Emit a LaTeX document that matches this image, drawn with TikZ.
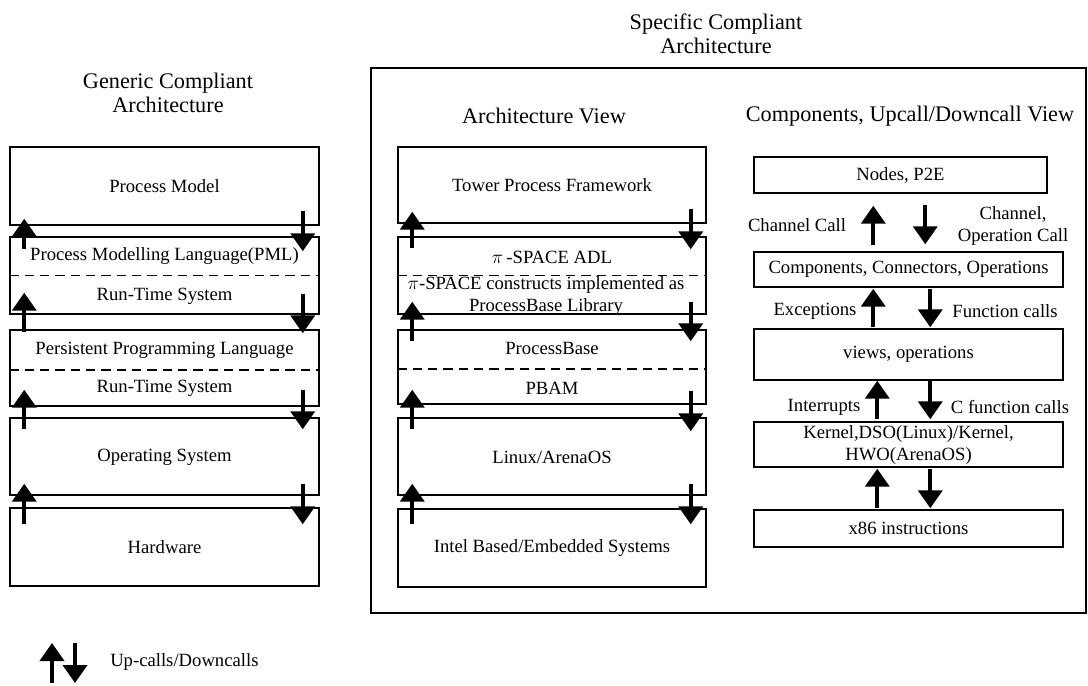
\documentclass[tikz,border=0pt]{standalone}
\usepackage{fontspec}
\setmainfont{Liberation Serif}
\usetikzlibrary{arrows.meta,fit,calc}

\begin{document}
\begin{tikzpicture}[x=0.75pt,y=-0.75pt,
  stackbox/.style={draw=black,line width=1.1pt,inner sep=0pt,rectangle},
  outerbox/.style={draw=black,line width=1.4pt,inner sep=0pt,rectangle},
  lbl/.style={font=\fontsize{14}{16.5}\selectfont,align=center,inner sep=0pt},
  ttl/.style={font=\fontsize{16.7}{18}\selectfont,align=center,inner sep=0pt},
  divider/.style={line width=1.1pt,dash pattern=on 7pt off 4.5pt},
  updown/.style={line width=3pt,-{Triangle[width=18pt,length=13.5pt]}},
]
\useasboundingbox (0,0) rectangle (1088,685);

% ---------- titles ----------
\node[ttl] (genT) at (168,93) {Generic Compliant\\Architecture};
\node[ttl] (specT) at (716,34) {Specific Compliant\\Architecture};
\node[outerbox, fit={(371,68)(1086,613)}] (spec) {};
\node[ttl] (archT) at (544,116) {Architecture View};
\node[ttl] (compT) at (910,116) {Components, Upcall/Downcall View};

% ---------- generic stack ----------
\node[stackbox, fit={(10,147)(319,225)}] (pm) {};
\node[stackbox, fit={(10,237)(319,314)}] (pml) {};
\node[stackbox, fit={(10,330)(319,406)}] (ppl) {};
\node[stackbox, fit={(10,418)(319,495)}] (os) {};
\node[stackbox, fit={(10,508)(319,586)}] (hw) {};
\draw[divider] (pml.west) -- (pml.east);
\draw[divider] ([yshift=-1.5pt]ppl.west) -- ([yshift=-1.5pt]ppl.east);

\node[lbl] (pmL)   at (164.5,186) {Process Model};
\node[lbl] (pmlL)  at (164.5,256) {Process Modelling Language(PML)};
\node[lbl] (rts1L) at (164.5,296) {Run-Time System};
\node[lbl] (pplL)  at (164.5,350) {Persistent Programming Language};
\node[lbl] (rts2L) at (164.5,388) {Run-Time System};
\node[lbl] (osL)   at (164.5,457) {Operating System};
\node[lbl] (hwL)   at (164.5,547) {Hardware};

% calls between generic layers
\draw[updown] ($(pml.north west)+(15,13)$) -- ($(pm.south west)+(15,-7)$);
\draw[updown] ($(pm.south east)+(-17,-15)$) -- ($(pml.north east)+(-17,15)$);
\draw[updown] ($(ppl.north west)+(15,3)$) -- ($(pml.south west)+(15,-22)$);
\draw[updown] ($(pml.south east)+(-17,-21)$) -- ($(ppl.north east)+(-17,4)$);
\draw[updown] ($(os.north west)+(15,12)$) -- ($(ppl.south west)+(15,-17)$);
\draw[updown] ($(ppl.south east)+(-17,-17)$) -- ($(os.north east)+(-17,12)$);
\draw[updown] ($(hw.north west)+(15,17)$) -- ($(os.south west)+(15,-12)$);
\draw[updown] ($(os.south east)+(-17,-12)$) -- ($(hw.north east)+(-17,17)$);

% ---------- architecture view ----------
\node[stackbox, fit={(398,147)(706,223)}] (tpf) {};
\node[stackbox, fit={(398,237)(706,314)}] (adl) {};
\node[stackbox, fit={(398,330)(706,404)}] (pb) {};
\node[stackbox, fit={(398,418)(706,495)}] (lin) {};
\node[stackbox, fit={(398,509)(706,587)}] (intel) {};
\draw[divider] (adl.west) -- (adl.east);
\draw[divider] ([yshift=-1.5pt]pb.west) -- ([yshift=-1.5pt]pb.east);

\node[lbl] (tpfL)   at (552,185) {Tower Process Framework};
\node[lbl] (adlL)   at (552,257) {$\pi$\,-SPACE ADL};
\node[lbl] (pbLibL) at (546,296) {$\pi$-SPACE constructs implemented as\\ProcessBase Library};
\node[lbl] (pbL)    at (552,348) {ProcessBase};
\node[lbl] (pbamL)  at (552,388) {PBAM};
\node[lbl] (linL)   at (552,457) {Linux/ArenaOS};
\node[lbl] (intelL) at (552,548) {Intel Based/Embedded Systems};

\draw[updown] ($(adl.north west)+(15,12)$) -- ($(tpf.south west)+(15,-12)$);
\draw[updown] ($(tpf.south east)+(-16,-15)$) -- ($(adl.north east)+(-16,13)$);
\draw[updown] ($(pb.north west)+(15,12)$) -- ($(adl.south west)+(15,-13)$);
\draw[updown] ($(adl.south east)+(-16,-13)$) -- ($(pb.north east)+(-16,12)$);
\draw[updown] ($(lin.north west)+(15,12)$) -- ($(pb.south west)+(15,-15)$);
\draw[updown] ($(pb.south east)+(-16,-14)$) -- ($(lin.north east)+(-16,14)$);
\draw[updown] ($(intel.north west)+(15,16)$) -- ($(lin.south west)+(15,-12)$);
\draw[updown] ($(lin.south east)+(-16,-12)$) -- ($(intel.north east)+(-16,16)$);

% ---------- components, upcall/downcall view ----------
\node[stackbox, fit={(754,157)(1047,193)}] (nodes) {};
\node[stackbox, fit={(754,252)(1063,287)}] (comp) {};
\node[stackbox, fit={(754,329)(1063,380)}] (views) {};
\node[stackbox, fit={(754,422)(1063,467)}] (kern) {};
\node[stackbox, fit={(754,510)(1063,547)}] (x86) {};

\node[lbl] (nodesL) at (nodes.center) {Nodes, P2E};
\node[lbl] (compL)  at (908.5,269) {Components, Connectors, Operations};
\node[lbl] (viewsL) at (908.5,354) {views, operations};
\node[lbl] (kernL)  at (908.5,445) {Kernel,DSO(Linux)/Kernel,\\HWO(ArenaOS)};
\node[lbl] (x86L)   at (908.5,528) {x86 instructions};

\draw[updown] ($(comp.north west)+(120,-6)$) -- ($(nodes.south west)+(120,12)$);
\draw[updown] ($(nodes.south west)+(172,11)$) -- ($(comp.north west)+(172,-7)$);
\draw[updown] ($(views.north west)+(120,-1)$) -- ($(comp.south west)+(120,1)$);
\draw[updown] ($(comp.south west)+(177,1)$) -- ($(views.north west)+(177,-1)$);
\draw[updown] ($(kern.north west)+(124,-2)$) -- ($(views.south west)+(124,0)$);
\draw[updown] ($(views.south west)+(177,0)$) -- ($(kern.north west)+(177,-2)$);
\draw[updown] ($(x86.north west)+(124,-1)$) -- ($(kern.south west)+(124,1)$);
\draw[updown] ($(kern.south west)+(177,1)$) -- ($(x86.north west)+(177,-1)$);

\node[lbl] (chanL)  at (797,225) {Channel Call};
\node[lbl] (opL)    at (1013,226) {Channel,\\Operation Call};
\node[lbl] (excL)   at (815,311) {Exceptions};
\node[lbl] (funL)   at (1005,311) {Function calls};
\node[lbl] (intL)   at (824,407) {Interrupts};
\node[lbl] (cfunL)  at (1010,407) {C function calls};

% ---------- legend ----------
\coordinate (lgUpTail) at (52,683);
\coordinate (lgUpTip) at (52,643);
\coordinate (lgDnTail) at (75,643);
\coordinate (lgDnTip) at (75,683);
\draw[updown] (lgUpTail) -- (lgUpTip);
\draw[updown] (lgDnTail) -- (lgDnTip);
\node[lbl, anchor=west] (lgL) at (110,662) {Up-calls/Downcalls};
\end{tikzpicture}
\end{document}
